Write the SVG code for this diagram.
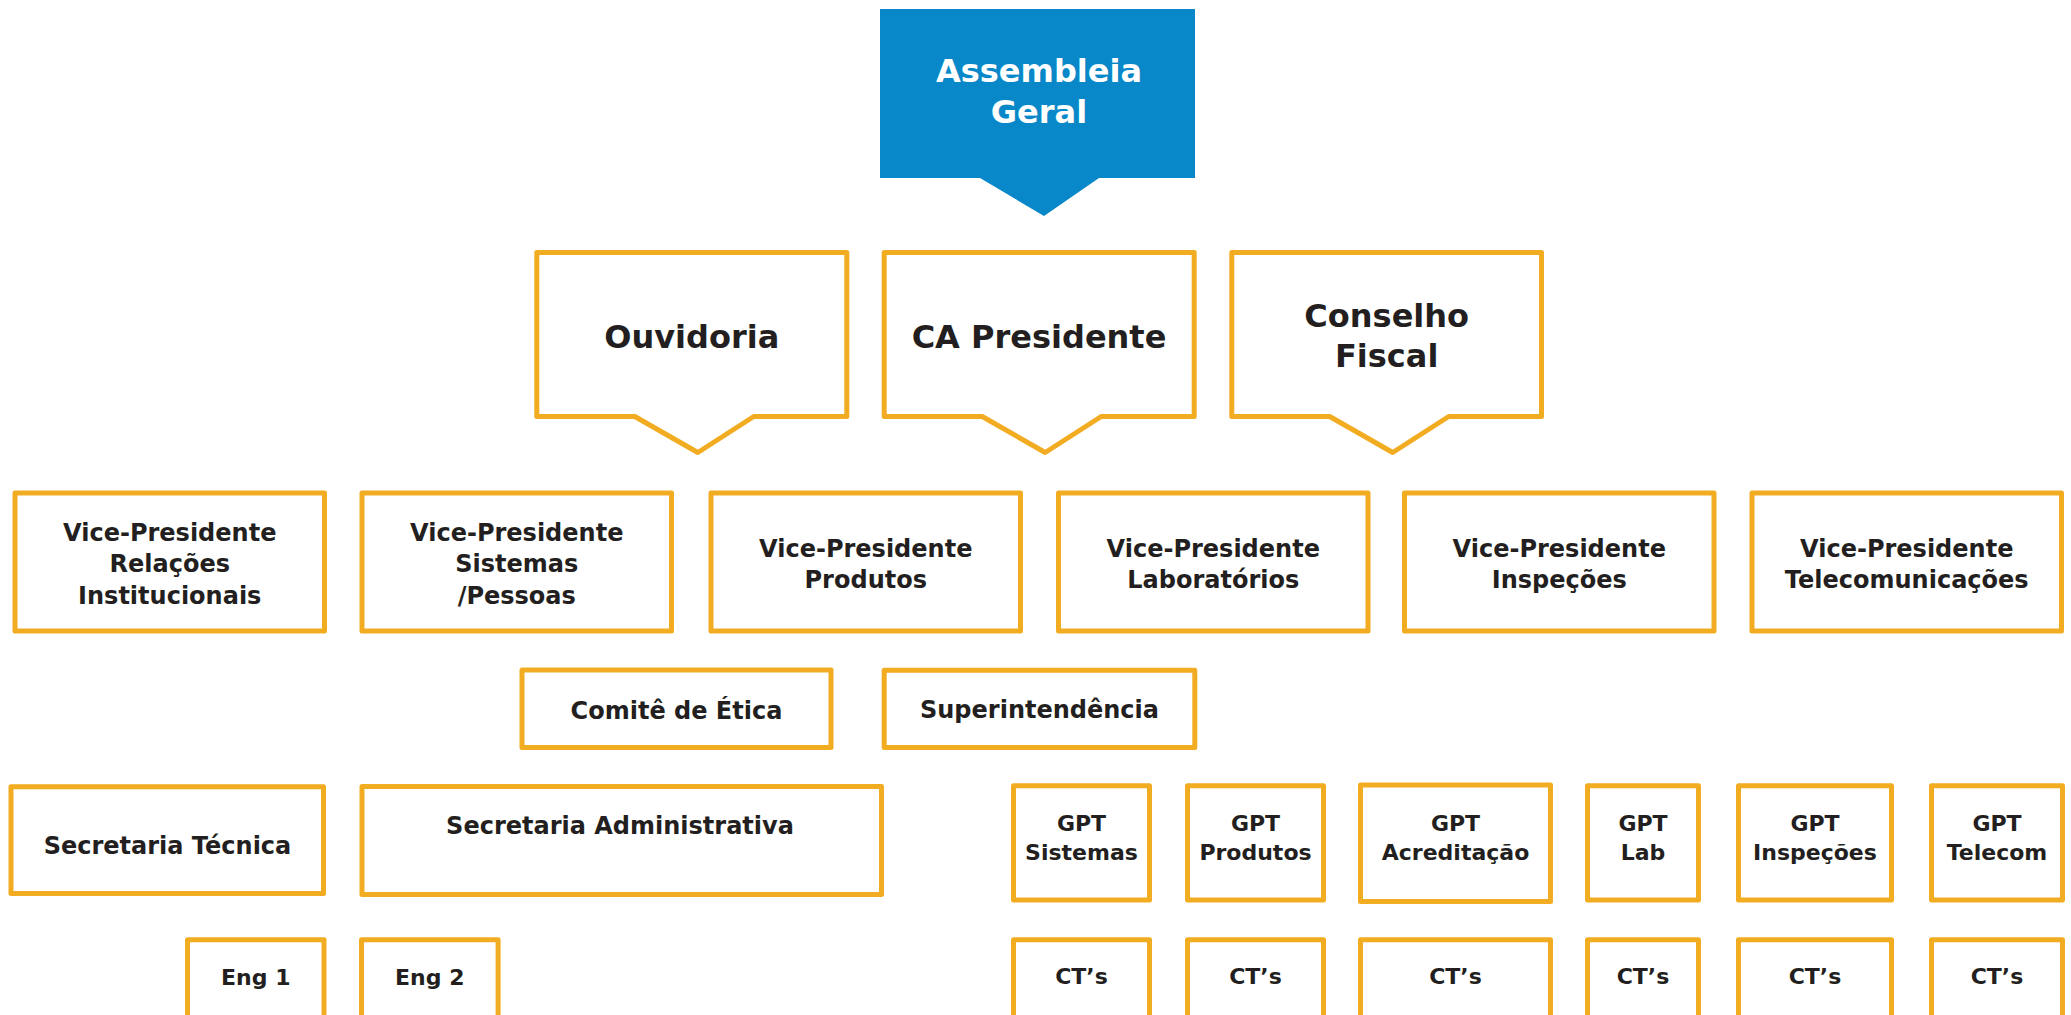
<svg xmlns="http://www.w3.org/2000/svg" width="2071" height="1015" viewBox="0 0 2071 1015">
<style>
  .box { fill: #ffffff; stroke: #F2AC22; stroke-width: 5; stroke-linejoin: round; }
  .t { font-family: "DejaVu Sans", Verdana, sans-serif; font-weight: bold; fill: #231F20; text-anchor: middle; }
  .t32 { font-size: 32px; }
  .t24 { font-size: 24px; }
  .t22 { font-size: 22px; }
  .w { fill: #ffffff; }
</style>
<rect width="2071" height="1015" fill="#ffffff"/>
<g id="connectors"/>

<g id="assembleia-geral">
  <path d="M880,9 H1195 V178 H1099 L1044,216 L980,178 H880 Z" fill="#0888C8"/>
  <text class="t t32 w" x="1039" y="82">Assembleia</text>
  <text class="t t32 w" x="1039" y="123">Geral</text>
</g>

<g id="ouvidoria">
  <path class="box" d="M536.8,252.5 H846.8 V416.5 H753.8 L697.8,452.5 L634.8,416.5 H536.8 Z"/>
  <text class="t t32" x="691.8" y="348">Ouvidoria</text>
</g>
<g id="ca-presidente">
  <path class="box" d="M884.2,252.5 H1194.2 V416.5 H1101.2 L1045.2,452.5 L982.2,416.5 H884.2 Z"/>
  <text class="t t32" x="1039" y="348">CA Presidente</text>
</g>
<g id="conselho-fiscal">
  <path class="box" d="M1231.8,252.5 H1541.5 V416.5 H1448.7 L1392.7,452.5 L1329.7,416.5 H1231.8 Z"/>
  <text class="t t32" x="1386.7" y="326.7">Conselho</text>
  <text class="t t32" x="1386.7" y="367.3">Fiscal</text>
</g>

<g id="vp-relacoes">
  <rect class="box" x="15" y="493" width="309.5" height="138"/>
  <text class="t t24" x="169.75" y="540.5">Vice-Presidente</text>
  <text class="t t24" x="169.75" y="572">Relações</text>
  <text class="t t24" x="169.75" y="603.5">Institucionais</text>
</g>
<g id="vp-sistemas">
  <rect class="box" x="362" y="493" width="309.5" height="138"/>
  <text class="t t24" x="516.75" y="540.5">Vice-Presidente</text>
  <text class="t t24" x="516.75" y="572">Sistemas</text>
  <text class="t t24" x="516.75" y="603.5">/Pessoas</text>
</g>
<g id="vp-produtos">
  <rect class="box" x="711" y="493" width="309.5" height="138"/>
  <text class="t t24" x="865.75" y="556.5">Vice-Presidente</text>
  <text class="t t24" x="865.75" y="588">Produtos</text>
</g>
<g id="vp-laboratorios">
  <rect class="box" x="1058.5" y="493" width="309.5" height="138"/>
  <text class="t t24" x="1213.25" y="556.5">Vice-Presidente</text>
  <text class="t t24" x="1213.25" y="588">Laboratórios</text>
</g>
<g id="vp-inspecoes">
  <rect class="box" x="1404.5" y="493" width="309.5" height="138"/>
  <text class="t t24" x="1559.25" y="556.5">Vice-Presidente</text>
  <text class="t t24" x="1559.25" y="588">Inspeções</text>
</g>
<g id="vp-telecom">
  <rect class="box" x="1752" y="493" width="309.5" height="138"/>
  <text class="t t24" x="1906.75" y="556.5">Vice-Presidente</text>
  <text class="t t24" x="1906.75" y="588">Telecomunicações</text>
</g>

<g id="comite-etica">
  <rect class="box" x="522" y="670" width="309" height="77.5"/>
  <text class="t t24" x="676.5" y="719">Comitê de Ética</text>
</g>
<g id="superintendencia">
  <rect class="box" x="884.2" y="670.2" width="310.6" height="77.3"/>
  <text class="t t24" x="1039.5" y="718.3">Superintendência</text>
</g>

<g id="secretaria-tecnica">
  <rect class="box" x="11" y="786.8" width="312.5" height="106.7"/>
  <text class="t t24" x="167.5" y="854">Secretaria Técnica</text>
</g>
<g id="secretaria-administrativa">
  <rect class="box" x="362" y="786.5" width="519.5" height="108"/>
  <text class="t t24" x="620" y="834">Secretaria Administrativa</text>
</g>

<g id="gpt-sistemas">
  <rect class="box" x="1013.5" y="785.8" width="136" height="114.2"/>
  <text class="t t22" x="1081.5" y="831">GPT</text>
  <text class="t t22" x="1081.5" y="860">Sistemas</text>
</g>
<g id="gpt-produtos">
  <rect class="box" x="1187.5" y="785.8" width="136" height="114.2"/>
  <text class="t t22" x="1255.5" y="831">GPT</text>
  <text class="t t22" x="1255.5" y="860">Produtos</text>
</g>
<g id="gpt-acreditacao">
  <rect class="box" x="1360.5" y="785" width="190" height="116.5"/>
  <text class="t t22" x="1455.5" y="831">GPT</text>
  <text class="t t22" x="1455.5" y="860">Acreditação</text>
</g>
<g id="gpt-lab">
  <rect class="box" x="1587.5" y="785.8" width="111" height="114.2"/>
  <text class="t t22" x="1643" y="831">GPT</text>
  <text class="t t22" x="1643" y="860">Lab</text>
</g>
<g id="gpt-inspecoes">
  <rect class="box" x="1738.5" y="785.8" width="153" height="114.2"/>
  <text class="t t22" x="1815" y="831">GPT</text>
  <text class="t t22" x="1815" y="860">Inspeções</text>
</g>
<g id="gpt-telecom">
  <rect class="box" x="1931.5" y="785.8" width="131" height="114.2"/>
  <text class="t t22" x="1997" y="831">GPT</text>
  <text class="t t22" x="1997" y="860">Telecom</text>
</g>

<g id="eng-1">
  <rect class="box" x="187.5" y="939.8" width="136.5" height="100"/>
  <text class="t t22" x="255.75" y="985">Eng 1</text>
</g>
<g id="eng-2">
  <rect class="box" x="361.5" y="939.8" width="136.6" height="100"/>
  <text class="t t22" x="429.8" y="985">Eng 2</text>
</g>

<g id="cts-sistemas">
  <rect class="box" x="1013.5" y="939.8" width="136" height="100"/>
  <text class="t t22" x="1081.5" y="983.5">CT’s</text>
</g>
<g id="cts-produtos">
  <rect class="box" x="1187.5" y="939.8" width="136" height="100"/>
  <text class="t t22" x="1255.5" y="983.5">CT’s</text>
</g>
<g id="cts-acreditacao">
  <rect class="box" x="1360.5" y="939.8" width="190" height="100"/>
  <text class="t t22" x="1455.5" y="983.5">CT’s</text>
</g>
<g id="cts-lab">
  <rect class="box" x="1587.5" y="939.8" width="111" height="100"/>
  <text class="t t22" x="1643" y="983.5">CT’s</text>
</g>
<g id="cts-inspecoes">
  <rect class="box" x="1738.5" y="939.8" width="153" height="100"/>
  <text class="t t22" x="1815" y="983.5">CT’s</text>
</g>
<g id="cts-telecom">
  <rect class="box" x="1931.5" y="939.8" width="131" height="100"/>
  <text class="t t22" x="1997" y="983.5">CT’s</text>
</g>
</svg>
